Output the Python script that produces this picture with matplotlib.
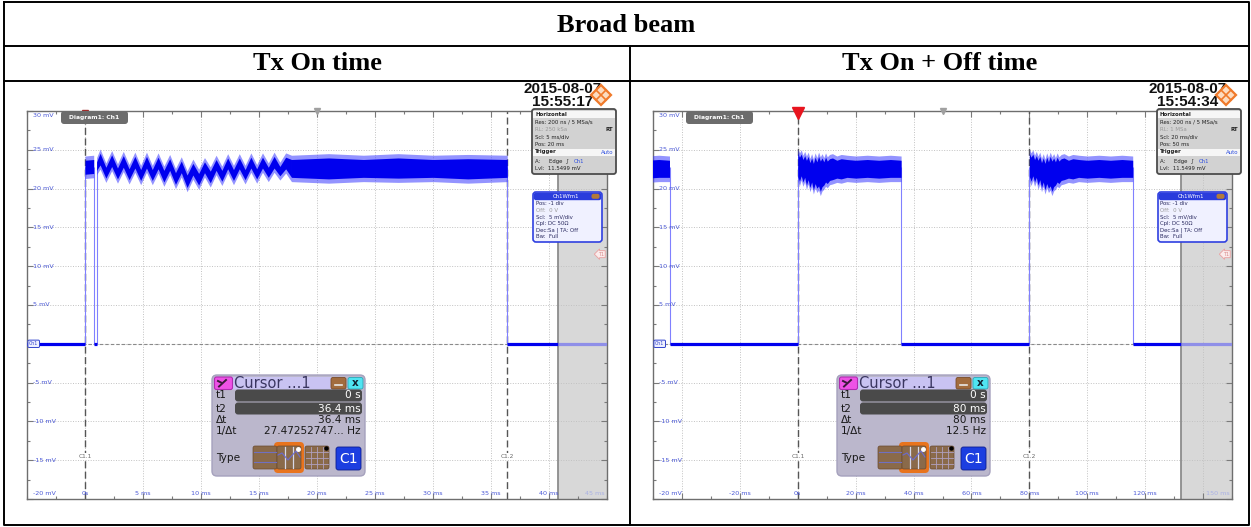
import matplotlib
matplotlib.use('Agg')
import matplotlib.pyplot as plt
import numpy as np
from matplotlib.patches import FancyBboxPatch, Rectangle, Polygon
from matplotlib.ticker import MultipleLocator

W, H = 1251, 527
SIG = '#0000ee'
EDGE = '#8080ff'
LBL = '#4a58d6'

# ---------------- data ----------------
mv_ticks = [30, 25, 20, 15, 10, 5, 0, -5, -10, -15, -20]
mv_labels = ['30 mV', '25 mV', '20 mV', '15 mV', '10 mV', '5 mV', '',
             '-5 mV', '-10 mV', '-15 mV', '-20 mV']
trig_level = 11.5499

# Tx On time screen (5 ms/div), times in ms, levels in mV
on_xlim = (-5, 45)
on_grid = [0, 5, 10, 15, 20, 25, 30, 35, 40]
on_xlabels = ['0s', '5 ms', '10 ms', '15 ms', '20 ms', '25 ms', '30 ms', '35 ms', '40 ms']
on_last_label = '45 ms'
on_low = [(-5, 0), (0.75, 1.0), (36.4, 40.8)]
on_low_dim = (40.8, 45)
on_edges = [0.0, 0.75, 1.0, 36.4]
on_first_t = [0.0, 0.75]
on_first_hi = [24.2, 24.3]
on_first_lo = [21.3, 21.4]
on_osc_t = [1.0, 1.3, 1.8, 2.3, 2.8, 3.3, 3.8, 4.3, 4.8, 5.3, 5.8, 6.3, 6.8, 7.3, 7.8,
            8.3, 8.8, 9.3, 9.8, 10.3, 10.8, 11.3, 11.8, 12.3, 12.8, 13.3, 13.8, 14.3,
            14.8, 15.3, 15.8, 16.3, 16.8, 17.3, 17.8]
on_osc_hi = [24.0, 25.1, 23.3, 24.9, 23.2, 24.8, 23.1, 24.7, 23.0, 24.7, 23.0, 24.6, 22.9,
             24.4, 22.6, 24.1, 22.3, 23.8, 22.5, 24.0, 22.8, 24.3, 22.9, 24.5, 23.0, 24.5,
             23.0, 24.6, 23.1, 24.6, 23.3, 24.7, 23.4, 24.6, 24.3]
on_osc_lo = [21.8, 22.5, 20.8, 22.3, 20.7, 22.2, 20.6, 22.1, 20.5, 22.1, 20.5, 22.0, 20.3,
             21.8, 20.0, 21.5, 19.6, 21.2, 19.9, 21.5, 20.2, 21.8, 20.4, 22.0, 20.5, 22.0,
             20.6, 22.1, 20.7, 22.1, 20.9, 22.1, 21.1, 22.0, 20.9]
on_flat_t = [17.8, 21, 24, 27, 30, 33, 36.4]
on_flat_hi = [24.3, 24.5, 24.3, 24.5, 24.3, 24.4, 24.3]
on_flat_lo = [20.9, 20.7, 20.9, 20.8, 20.9, 20.7, 20.9]
on_cursors = [0.0, 36.4]
on_cursor_vals = ['0 s', '36.4 ms', '36.4 ms', '27.47252747... Hz']
on_horiz = ['RL: 250 kSa', 'Scl: 5 ms/div', 'Pos: 20 ms']
on_time = ['2015-08-07', '15:55:17']
on_center = 20

# Tx On + Off time screen (20 ms/div)
off_xlim = (-50, 150)
off_grid = [-40, -20, 0, 20, 40, 60, 80, 100, 120, 140]
off_label_pos = [-20, 0, 20, 40, 60, 80, 100, 120]
off_xlabels = ['-20 ms', '0s', '20 ms', '40 ms', '60 ms', '80 ms', '100 ms', '120 ms']
off_last_label = '150 ms'
off_pulse_starts = [-80, 0, 80]
off_prof_t = [0, 0.6, 1.2, 1.8, 2.4, 3.0, 3.6, 4.2, 4.8, 5.4, 6.0, 6.6, 7.2, 7.8, 8.4,
              9.0, 9.6, 10.2, 11, 12, 13.5, 15, 17, 20, 24, 28, 32, 35.7]
off_prof_hi = [25.1, 24.6, 25.0, 24.3, 24.8, 24.2, 24.7, 23.9, 24.5, 23.8, 24.6, 24.0,
               24.7, 24.1, 24.5, 24.0, 24.6, 24.1, 24.4, 24.5, 24.2, 24.4, 24.3, 24.2,
               24.3, 24.2, 24.3, 24.2]
off_prof_lo = [21.0, 20.4, 21.1, 20.3, 20.9, 19.9, 20.6, 19.6, 20.3, 19.3, 20.1, 19.5,
               19.8, 19.1, 19.7, 19.9, 20.3, 20.1, 20.5, 20.6, 20.8, 20.7, 20.9, 20.8,
               20.9, 20.8, 20.9, 20.9]
off_low = [(-44.3, 0), (35.7, 80), (115.7, 132.3)]
off_low_dim = (132.3, 150)
off_edges = [-44.3, 0, 35.7, 80, 115.7]
off_cursors = [0.0, 80.0]
off_cursor_vals = ['0 s', '80 ms', '80 ms', '12.5 Hz']
off_horiz = ['RL: 1 MSa', 'Scl: 20 ms/div', 'Pos: 50 ms']
off_time = ['2015-08-07', '15:54:34']
off_center = 50

fig = plt.figure(figsize=(W / 100, H / 100), dpi=100)
bg = fig.add_axes([0, 0, 1, 1])
bg.set_xlim(0, W)
bg.set_ylim(H, 0)
bg.axis('off')

# table frame
for xs, ys in [([4, 1249, 1249, 4, 4], [2, 2, 525, 525, 2]),
               ([4, 1249], [46, 46]), ([4, 1249], [81, 81]), ([630, 630], [46, 525])]:
    bg.plot(xs, ys, color='black', lw=1.4, solid_capstyle='projecting')
serif = dict(family='Liberation Serif', fontweight='bold', fontsize=19, ha='center', va='center')
bg.text(626, 25, 'Broad beam', **serif)
bg.text(317, 64, 'Tx On time', **serif)
bg.text(940, 64, 'Tx On + Off time', **serif)


def scope(px, xlim, grid, step):
    x0, x1, y0, y1 = px
    ax = fig.add_axes([x0 / W, 1 - y1 / H, (x1 - x0) / W, (y1 - y0) / H])
    ax.set_xlim(*xlim)
    ax.set_ylim(-20, 30)
    ax.set_xticks(grid)
    ax.set_yticks(mv_ticks)
    ax.xaxis.set_minor_locator(MultipleLocator(step / 2))
    ax.yaxis.set_minor_locator(MultipleLocator(2.5))
    ax.tick_params(which='both', direction='in', top=True, right=True,
                   labelleft=False, labelbottom=False, color='#7a7a7a', width=0.8)
    ax.tick_params(which='major', length=4)
    ax.tick_params(which='minor', length=2.5)
    ax.grid(True, which='major', color='#c2c2c2', lw=0.7, ls=(0, (1, 1.6)))
    for s in ax.spines.values():
        s.set_color('#6e6e6e')
        s.set_linewidth(1.0)
    ax.axhline(0, color='#8a8a8a', lw=0.8, ls=(0, (3, 2)), zorder=1.6)
    for v, s in zip(mv_ticks, mv_labels):
        if not s:
            continue
        va, dy = 'center', 0
        if v == mv_ticks[0]:
            va, dy = 'top', -1.5
        elif v == mv_ticks[-1]:
            va, dy = 'bottom', 2
        ax.annotate(s, xy=(0, v), xycoords=('axes fraction', 'data'), xytext=(4.5, dy),
                    textcoords='offset points', ha='left', va=va, fontsize=4.6,
                    color=LBL, zorder=6)
    return ax


def xlabels(ax, pos, labels, last):
    for t, s in zip(pos, labels):
        ax.annotate(s, xy=(t, 0), xycoords=('data', 'axes fraction'), xytext=(0, 2.5),
                    textcoords='offset points', ha='center', va='bottom', fontsize=4.6,
                    color=LBL, zorder=6)
    ax.annotate(last, xy=(1, 0), xycoords='axes fraction', xytext=(-1.5, 2.5),
                textcoords='offset points', ha='right', va='bottom', fontsize=4.6,
                color='#aab1e4', zorder=6)


def band(ax, t, hi, lo):
    hi = np.asarray(hi)
    lo = np.asarray(lo)
    ax.fill_between(t, lo, hi, color='#3a3aff', alpha=0.55, lw=0, zorder=3)
    ax.fill_between(t, lo + 0.55, hi - 0.55, color=SIG, lw=0, zorder=3.2)


def common(ax, low, low_dim, edges, cursors, shade, xlim, center, trig_size, trig_col):
    ax.axvspan(shade, xlim[1], color='#d8d8d8', lw=0, zorder=0.5)
    ax.axvline(shade, color='#8c8c8c', lw=1.3, zorder=1.7)
    ax.vlines(edges, 0, 22.8, color=EDGE, lw=0.8, zorder=2.8)
    for a, b in low:
        ax.plot([a, b], [0, 0], color=SIG, lw=2.3, solid_capstyle='butt', zorder=4)
    ax.plot(low_dim, [0, 0], color='#8f8fe8', lw=2.3, solid_capstyle='butt', zorder=4)
    for c, name in zip(cursors, ['C1.1', 'C1.2']):
        ax.axvline(c, color='#555555', lw=1.0, ls=(0, (5, 2.5)), zorder=2.5)
        ax.text(c, -14.5, name, ha='center', va='center', fontsize=4.2, color='#666666',
                zorder=5, bbox=dict(fc='white', ec='none', pad=0.5))
    tr = ax.get_xaxis_transform()
    ax.plot([center], [1.0], marker='v', ms=4, color='#a0a0a0', transform=tr,
            clip_on=False, zorder=7, lw=0)
    ax.plot([0], [0.995], marker='v', ms=trig_size, color=trig_col, transform=tr,
            clip_on=False, zorder=7, lw=0)
    ax.annotate('Ch1', xy=(0, 0), xycoords=('axes fraction', 'data'), xytext=(1.5, 0),
                textcoords='offset points', ha='left', va='center', fontsize=3.4,
                color='#3344cc', zorder=7,
                bbox=dict(boxstyle='round,pad=0.25', fc='#eef0ff', ec='#3344cc', lw=0.7))
    ax.annotate('T1', xy=(1, trig_level), xycoords=('axes fraction', 'data'),
                xytext=(-2, 0), textcoords='offset points', ha='right', va='center',
                fontsize=3.6, color='#d88a8a', zorder=7,
                bbox=dict(boxstyle='larrow,pad=0.2', fc='#fbecec', ec='#eaa0a0', lw=0.6))


# left screen
axL = scope((27, 607, 111, 499), on_xlim, on_grid, 5)
xlabels(axL, on_grid, on_xlabels, on_last_label)
common(axL, on_low, on_low_dim, on_edges, on_cursors, 40.8, on_xlim, on_center, 5, '#a02a2a')
band(axL, on_first_t, on_first_hi, on_first_lo)
band(axL, on_osc_t, on_osc_hi, on_osc_lo)
band(axL, on_flat_t, on_flat_hi, on_flat_lo)

# right screen
axR = scope((653, 1232, 111, 499), off_xlim, off_grid, 20)
xlabels(axR, off_label_pos, off_xlabels, off_last_label)
common(axR, off_low, off_low_dim, off_edges, off_cursors, 132.3, off_xlim, off_center, 8, '#e8141e')
for s in off_pulse_starts:
    band(axR, np.asarray(off_prof_t) + s, off_prof_hi, off_prof_lo)

# overlays in pixel coordinates
ov = fig.add_axes([0, 0, 1, 1])
ov.set_xlim(0, W)
ov.set_ylim(H, 0)
ov.axis('off')


def rbox(x, y, w, h, fc, ec='none', lw=0.0, r=2.5):
    ov.add_patch(FancyBboxPatch((x, y), w, h, boxstyle=f'round,pad=0,rounding_size={r}',
                                fc=fc, ec=ec, lw=lw, zorder=5))


def txt(x, y, s, size=3.9, **kw):
    kw.setdefault('va', 'center')
    kw.setdefault('color', '#222222')
    ov.text(x, y, s, fontsize=size, zorder=6, **kw)


def panel_overlay(dx, horiz, stamp, cur_vals):
    # diagram tab
    rbox(61 + dx, 111, 67, 13, '#6c6c6c', r=3)
    txt(94.5 + dx, 117.5, 'Diagram1: Ch1', 4.3, color='white', fontweight='bold', ha='center')
    # timestamp + logo
    txt(602 + dx, 89, stamp[0], 11, ha='right', fontweight='bold', family='Liberation Sans',
        color='#111111')
    txt(593 + dx, 102, stamp[1], 11, ha='right', fontweight='bold', family='Liberation Sans',
        color='#111111')
    cx, cy = 601 + dx, 95
    ov.add_patch(Polygon([(cx, cy - 10), (cx + 10, cy), (cx, cy + 10), (cx - 10, cy)],
                         fc='#fcdcc0', ec='#f07a2a', lw=1.6, zorder=7))
    ov.plot([cx - 5, cx + 5], [cy - 5, cy + 5], color='#f07a2a', lw=1.2, zorder=7)
    ov.plot([cx - 5, cx + 5], [cy + 5, cy - 5], color='#f07a2a', lw=1.2, zorder=7)

    # horizontal / trigger box
    x, y = 532 + dx, 109
    rbox(x, y, 84, 65, '#d2d2d2', '#4c4c4c', 1.3)
    ov.add_patch(Rectangle((x + 1, y + 1.5), 82, 7, fc='#f6f6f6', ec='none', zorder=5))
    txt(x + 3, y + 5, 'Horizontal', fontweight='bold')
    txt(x + 3, y + 13, 'Res: 200 ns / 5 MSa/s')
    txt(x + 3, y + 20.5, horiz[0], color='#9a9a9a')
    txt(x + 81, y + 20.5, 'RT', ha='right', fontweight='bold')
    txt(x + 3, y + 28, horiz[1])
    txt(x + 3, y + 35, horiz[2])
    ov.add_patch(Rectangle((x + 1, y + 39.5), 82, 7, fc='#f6f6f6', ec='none', zorder=5))
    txt(x + 3, y + 43, 'Trigger', fontweight='bold')
    txt(x + 81, y + 43, 'Auto', ha='right', color='#3050e0')
    txt(x + 3, y + 52.5, 'A:     Edge  \u222b')
    txt(x + 42, y + 52.5, 'Ch1', color='#3050e0')
    txt(x + 3, y + 59.5, 'Lvl:  11.5499 mV')

    # channel box
    x, y = 533 + dx, 192
    rbox(x, y, 69, 50, '#f0f1ff', '#2f40e0', 1.2, r=3)
    rbox(x + 0.6, y + 0.6, 67.8, 7.6, '#2a3cdc', r=2.5)
    txt(x + 33, y + 4.4, 'Ch1Wfm1', color='white', ha='center')
    rbox(x + 58.5, y + 1.8, 8, 5, '#b27a3a', r=2)
    rows = [('Pos: -1 div', '#2a2a60'), ('Off:  0 V', '#9a9a9a'), ('Scl:  5 mV/div', '#2a2a60'),
            ('Cpl: DC 50\u03a9', '#2a2a60'), ('Dec:Sa | TA: Off', '#2a2a60'), ('Bw:  Full', '#2a2a60')]
    for i, (s, c) in enumerate(rows):
        txt(x + 2.5, y + 11.5 + i * 6.7, s, color=c)

    # cursor box
    x, y = 212 + dx, 375
    rbox(x, y, 153, 101, '#bbb7cc', '#a5a1bd', 1.0, r=5)
    rbox(x + 2, y + 2, 118, 12.5, '#c9c3f2', r=2)
    rbox(x + 2.5, y + 2, 18, 12.5, '#ee52e6', '#b02cb0', 0.8, r=2)
    ov.plot([x + 7, x + 14], [y + 11.5, y + 5], color='#3a1a3a', lw=1.4, zorder=7)
    ov.plot([x + 6, x + 9], [y + 6, y + 7.5], color='#3a1a3a', lw=1.4, zorder=7)
    txt(x + 22, y + 8.5, 'Cursor ...1', 10.5, color='#3a3660')
    rbox(x + 119, y + 2.5, 15, 11.5, '#a26c3e', '#7a4c2a', 0.6, r=2)
    ov.plot([x + 123, x + 130], [y + 9.5, y + 9.5], color='#e8e8e8', lw=1.2, zorder=7)
    rbox(x + 136, y + 2.5, 15, 11.5, '#50e4f2', '#2aa8b8', 0.6, r=2)
    txt(x + 143.5, y + 8, 'x', 7.5, ha='center', fontweight='bold', color='#102030')
    rbox(x + 23, y + 14.5, 127, 12, '#4a4a4a', r=3)
    rbox(x + 23, y + 27.5, 127, 12, '#4a4a4a', r=3)
    lab = ['t1', 't2', '\u0394t', '1/\u0394t']
    ys = [y + 20.5, y + 33.5, y + 45, y + 56]
    for i in range(4):
        txt(x + 4, ys[i], lab[i], 7.6, color='#1a1a1a')
        txt(x + 149, ys[i], cur_vals[i], 7.6, ha='right',
            color='white' if i < 2 else '#1a1a1a')
    txt(x + 4, y + 83, 'Type', 7.6, color='#1a1a1a')
    # type icons
    rbox(x + 62, y + 67, 30, 31, '#e8741e', r=4)
    for ix in [x + 41, x + 65, x + 93]:
        rbox(ix, y + 71, 24, 23, '#8a6a4a', '#6a4a30', 0.5, r=2)
    ov.plot([x + 42, x + 64], [y + 77, y + 77], color='#7070c0', lw=0.8, zorder=7)
    ov.plot([x + 42, x + 64], [y + 87, y + 87], color='#7070c0', lw=0.8, zorder=7)
    ov.plot([x + 73, x + 73], [y + 72, y + 93], color='#d8d8e8', lw=0.9, zorder=7)
    ov.plot([x + 81, x + 81], [y + 72, y + 93], color='#d8d8e8', lw=0.9, zorder=7)
    ov.plot([x + 66, x + 70, x + 76, x + 84, x + 88], [y + 80, y + 78, y + 85, y + 76, y + 82],
            color='#6a6ad0', lw=0.8, zorder=7)
    for k in range(1, 4):
        ov.plot([x + 93 + 6 * k, x + 93 + 6 * k], [y + 72, y + 93], color='#b0a0c0', lw=0.6, zorder=7)
        ov.plot([x + 94, x + 116], [y + 71 + 6 * k, y + 71 + 6 * k], color='#b0a0c0', lw=0.6, zorder=7)
    ov.plot([x + 86], [y + 74], marker='o', ms=2.5, color='white', zorder=8)
    ov.plot([x + 114], [y + 73], marker='o', ms=2.2, color='black', zorder=8)
    rbox(x + 124, y + 72, 25, 23, '#1c3ee0', '#0c1c90', 0.6, r=2.5)
    txt(x + 136.5, y + 84, 'C1', 10, ha='center', color='white')


panel_overlay(0, on_horiz, on_time, on_cursor_vals)
panel_overlay(625, off_horiz, off_time, off_cursor_vals)

fig.savefig('out.png', dpi=100)
